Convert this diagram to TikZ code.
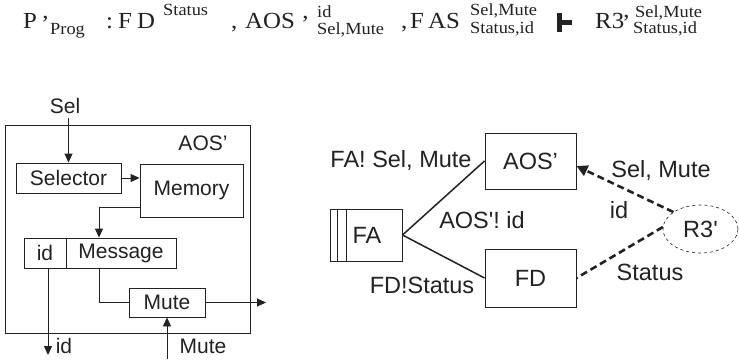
\documentclass[tikz,border=0pt]{standalone}
\usepackage{fontspec}
\setmainfont{Liberation Sans}
\newfontfamily\formfont[FakeStretch=1.08]{Liberation Serif}
\usetikzlibrary{arrows.meta,shapes.geometric}
\definecolor{ink}{HTML}{222222}

\tikzset{
  lbl/.style={inner sep=0pt, text=ink, font=\fontsize{21}{24}\selectfont},
  rlbl/.style={inner sep=0pt, text=ink, font=\fontsize{23.5}{28}\selectfont},
  fbig/.style={inner sep=0pt, anchor=base west, text=ink, font=\formfont\fontsize{23}{27}\selectfont},
  fsmall/.style={inner sep=0pt, anchor=base west, text=ink, font=\formfont\fontsize{17}{20}\selectfont},
  blk/.style={draw=ink, line width=0.9pt, inner sep=0pt, text=ink, font=\fontsize{21}{24}\selectfont},
  rblk/.style={draw=ink, line width=1pt, inner sep=0pt, text=ink, font=\fontsize{23.5}{28}\selectfont},
  wire/.style={draw=ink, line width=0.9pt},
  arr/.style={wire, -{Triangle[length=9pt,width=8pt]}},
  link/.style={draw=ink, line width=1.5pt},
  chan/.style={draw=ink, line width=2.6pt, dash pattern=on 7pt off 4pt},
}

\begin{document}
\begin{tikzpicture}[x=1pt,y=-1pt]
\useasboundingbox[fill=white] (0,0) rectangle (739,359);

% ---------- sequent on the first line ----------
\node[fbig]   (fP)    at (23,28.5)  {P};
\node[fbig]   (fPq)   at (41,31)    {’};
\node[fsmall] (fProg) at (50,34)    {Prog};
\node[fbig]   (fcol)  at (106,28.5) {:};
\node[fbig]   (fF)    at (118,28.5) {F};
\node[fbig]   (fD)    at (137,28.5) {D};
\node[fsmall] (fDsup) at (163,15)   {Status};
\node[fbig]   (fc1)   at (231,28.5) {,};
\node[fbig]   (fAOS)  at (245,28.5) {AOS};
\node[fbig]   (fAq)   at (301,31)   {’};
\node[fsmall] (fAsup) at (317,17)   {id};
\node[fsmall] (fAsub) at (317,34)   {Sel,Mute};
\node[fbig]   (fc2)   at (401,28.5) {,};
\node[fbig]   (fF2)   at (410,28.5) {F};
\node[fbig]   (fAS)   at (428,28.5) {AS};
\node[fsmall] (fSsup) at (470,15)   {Sel,Mute};
\node[fsmall] (fSsub) at (470,33)   {Status,id};
% turnstile
\fill[ink] (557,13) rectangle (561.5,32);
\fill[ink] (557,20) rectangle (572,24.5);
\node[fbig]   (fR)    at (595,28.5) {R3};
\node[fbig]   (fRq)   at (622,30)   {’};
\node[fsmall] (fRsup) at (635,17)   {Sel,Mute};
\node[fsmall] (fRsub) at (633,33)   {Status,id};

% ---------- internal structure of AOS' ----------
\node[draw=ink, line width=0.9pt, minimum width=245pt, minimum height=208pt] (outer) at (127.5,229) {};
\node[lbl] (aostitle) at (203,143) {AOS’};
\node[lbl] (sel) at (65,106) {Sel};
\coordinate (selin) at (68.5,118);

\node[blk, minimum width=105pt, minimum height=30pt] (selector) at (68.5,178) {Selector};
\node[blk, minimum width=103pt, minimum height=53pt] (memory) at (191.5,190.5) {Memory};
\node[blk, minimum width=42pt, minimum height=30pt] (idcell) at (45,253) {id};
\node[blk, minimum width=110pt, minimum height=30pt] (message) at (121,253) {Message};
\node[blk, minimum width=76pt, minimum height=29pt] (mute) at (167,302.5) {Mute};

\coordinate (muteout) at (266,302.5);
\coordinate (idout) at (48,355);
\coordinate (mutein) at (167,359);
\node[lbl] (idlbl) at (64,346) {id};
\node[lbl] (mutelbl) at (203,346) {Mute};

\draw[arr] (selin) -- (selector);
\draw[arr] (selector.east) -- (memory.west |- selector.east);
\draw[arr] ([yshift=10pt]memory.south west) -| ([xshift=-22pt]message.north);
\draw[wire] ([xshift=-22pt]message.south) |- (mute.west);
\draw[arr] (mute.east) -- (muteout);
\draw[arr] ([xshift=3pt]idcell.south) -- (idout);
\draw[arr] (mutein) -- (mute.south);

% ---------- process network ----------
\node[rblk, minimum width=91pt, minimum height=56pt] (aos) at (530.5,161) {AOS’};
\node[rblk, minimum width=91pt, minimum height=58pt] (fd) at (530.5,278) {FD};
\node[rblk, minimum width=72pt, minimum height=52pt] (fa) at (366,235) {\hspace*{2pt}FA};
\draw[ink, line width=1pt] ([xshift=8pt]fa.north west) -- ([xshift=8pt]fa.south west);
\draw[ink, line width=1pt] ([xshift=17pt]fa.north west) -- ([xshift=17pt]fa.south west);
\node[ellipse, draw=ink, line width=0.6pt, dashed, minimum width=75pt, minimum height=48pt,
      inner sep=0pt, text=ink, font=\fontsize{23.5}{28}\selectfont] (r3) at (700.5,229) {R3\textquotesingle};

\draw[link] (fa.east) -- (aos.west);
\draw[link] (fa.east) -- (fd.west);
\draw[chan, -{Triangle[length=11pt,width=11pt]}] (r3.148) -- ([yshift=-5pt]aos.east);
\draw[chan] (r3.177) -- (fd.east);

\node[rlbl] (lfa)   at (401,160) {FA! Sel, Mute};
\node[rlbl] (laos)  at (482,220) {AOS\textquotesingle! id};
\node[rlbl] (lfd)   at (422,285) {FD!Status};
\node[rlbl] (lsel)  at (661,170) {Sel, Mute};
\node[rlbl] (lid)   at (619,210) {id};
\node[rlbl] (lstat) at (650,272) {Status};
\end{tikzpicture}
\end{document}
